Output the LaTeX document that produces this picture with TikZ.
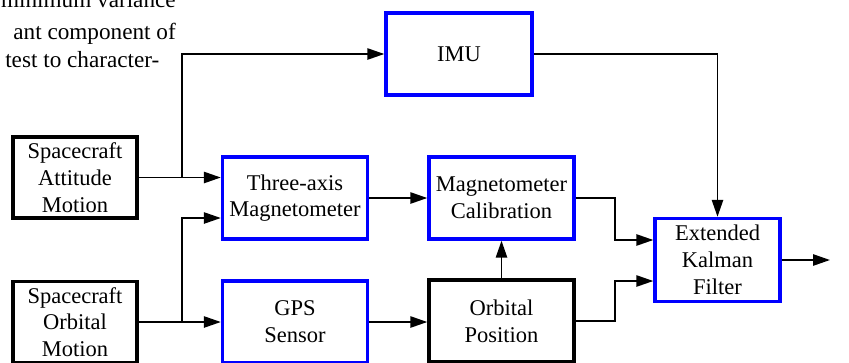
\documentclass[tikz,border=0pt]{standalone}
\usepackage{fontspec}
\setmainfont{Liberation Serif}
\usetikzlibrary{arrows.meta}

\tikzset{
  blk/.style = {draw=blue, line width=2.4pt, fill=white, align=center,
    minimum width=3.625cm, minimum height=2.05cm, inner sep=0pt,
    font=\fontsize{16}{19}\selectfont},
  srcblk/.style = {blk, draw=black},
  link/.style = {line width=1.2pt, -{Triangle[length=12pt,width=8pt]}},
  para/.style = {inner sep=0pt, font=\fontsize{16.5}{20}\selectfont}
}

\begin{document}
\begin{tikzpicture}[x=0.025cm, y=-0.025cm]
  \useasboundingbox (0,0) rectangle (849,362);

  % Le texte coupé
  \node[para, anchor=base east] (p1) at (176,7) {minimum variance};
  \node[para, anchor=base east] (p2) at (176,39) {ant component of};
  \node[para, anchor=base west] (p3) at (5,67) {test to character-};

  % Les blocs
  \node[srcblk, minimum width=3.1cm, minimum height=2.025cm] (att) at (75,177.5) {Spacecraft\\Attitude\\Motion};
  \node[srcblk, minimum width=3.1cm, minimum height=2.025cm] (orb) at (75,322) {Spacecraft\\Orbital\\Motion};
  \node[blk, minimum width=3.65cm] (imu) at (459,54) {IMU};
  \node[blk] (mag) at (295,198) {Three-axis\\Magnetometer};
  \node[blk] (cal) at (501.5,198) {Magnetometer\\Calibration};
  \node[blk] (gps) at (295,322) {GPS\\Sensor};
  \node[srcblk] (pos) at (501.5,321) {Orbital\\Position};
  \node[blk, minimum width=3.125cm, minimum height=2.075cm] (ekf) at (717.5,260) {Extended\\Kalman\\Filter};

  % Les points de branchement
  \coordinate (j1) at (182,177.5);
  \coordinate (j2) at (182,322);
  \coordinate (out) at (830,260);

  % Les flèches
  \draw[link] (att.east) -- (att.east -| mag.west);
  \draw[link] (j1) |- (imu.west);
  \draw[link] (orb.east) -- (orb.east -| gps.west);
  \draw[link] (j2) |- ([yshift=-0.5cm]mag.west);
  \draw[link] (mag) -- (cal);
  \draw[link] (gps.east) -- (gps.east -| pos.west);
  \draw[link] (pos) -- (cal);
  \draw[link] (cal.east) -- ++(39,0) |- ([yshift=0.5cm]ekf.west);
  \draw[link] (pos.east) -- ++(39,0) |- ([yshift=-0.525cm]ekf.west);
  \draw[link] (imu.east) -| (ekf.north);
  \draw[link] (ekf.east) -- (out);

\end{tikzpicture}
\end{document}
